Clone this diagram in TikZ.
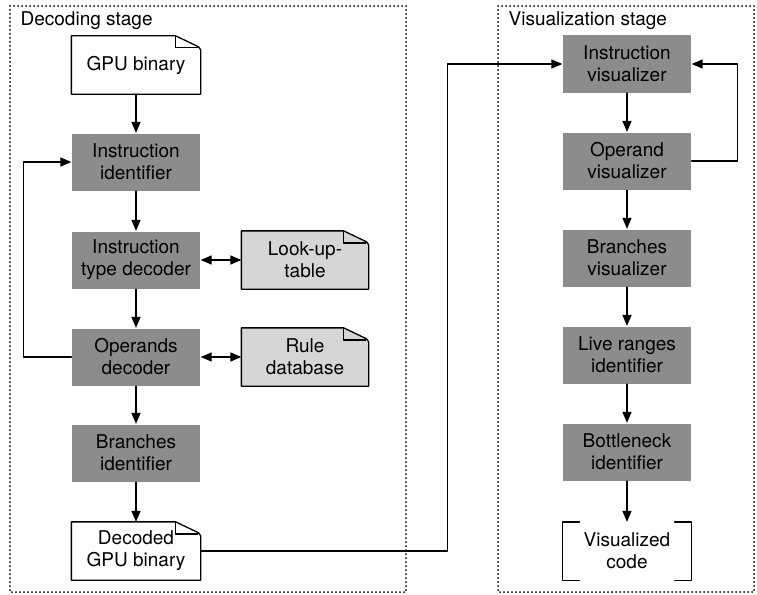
\documentclass[tikz,border=0pt]{standalone}
\usepackage{fontspec}
\setmainfont{TeX Gyre Heros}
\usetikzlibrary{arrows.meta}
\usetikzlibrary{positioning}

\tikzset{
  stagebox/.style={line width=2pt,line cap=round,dash pattern=on 0pt off 4pt},
  procbox/.style={fill=black!45,minimum width=128pt,minimum height=57pt,align=center,inner sep=0pt},
  docbox/.style={minimum width=128pt,minimum height=57pt,align=center,inner sep=0pt},
  stagelabel/.style={anchor=base west,inner sep=0pt},
}
% folded-corner outline round a named node
\newcommand{\docoutline}[2]{%
  \filldraw[fill=#2] (#1.south west) -- (#1.north west) -- ([xshift=-25pt]#1.north east)
    -- ([xshift=-2pt,yshift=-11pt]#1.north east) -- ([yshift=-14pt]#1.north east)
    -- (#1.south east) -- cycle;
  \draw ([xshift=-25pt]#1.north east) -- ++(0,-12pt) -- ([xshift=-3pt,yshift=-12pt]#1.north east);
}

\begin{document}
\begin{tikzpicture}[x=1pt,y=1pt,line width=1.3pt,line cap=round,line join=round,
  >={Triangle[length=11pt,width=9pt]},font=\fontsize{19}{22}\selectfont]
\useasboundingbox (0,0) rectangle (757,-594);
% stages
\draw[stagebox] (10,-6) rectangle (406,-592);
\draw[stagebox] (498,-6) rectangle (754,-592);
\node[stagelabel] (declabel) at (20,-26) {Decoding stage};
\node[stagelabel] (vislabel) at (508,-26) {Visualization stage};

% decoding column
\node[docbox] (gpubin) at (136,-65) {};
\docoutline{gpubin}{white}
\node (gpubintext) at (gpubin) {GPU binary};
\node[procbox] (instid) at (136,-162) {Instruction\\identifier};
\node[procbox] (typedec) at (136,-260) {Instruction\\type decoder};
\node[procbox] (opdec) at (136,-357) {Operands\\decoder};
\node[procbox] (brid) at (136,-453) {Branches\\identifier};
\node[docbox] (decbin) at (136,-551) {};
\docoutline{decbin}{white}
\node[align=center] (decbintext) at (decbin) {Decoded\\GPU binary};

\node[docbox,minimum width=126pt] (lut) at (305,-260) {};
\docoutline{lut}{black!16}
\node[align=center] (luttext) at (lut) {Look-up-\\table};
\node[docbox,minimum width=126pt] (ruledb) at (305,-357) {};
\docoutline{ruledb}{black!16}
\node[align=center] (ruledbtext) at (ruledb) {Rule\\database};

% visualization column
\node[procbox] (instvis) at (627,-64) {Instruction\\visualizer};
\node[procbox] (opvis) at (627,-161) {Operand\\visualizer};
\node[procbox] (brvis) at (627,-258) {Branches\\visualizer};
\node[procbox] (liveid) at (627,-355) {Live ranges\\identifier};
\node[procbox] (bottleid) at (627,-452) {Bottleneck\\identifier};
\node[docbox] (viscode) at (627,-551) {Visualized\\code};
\draw ([xshift=17pt]viscode.north west) -- (viscode.north west) -- (viscode.south west) -- ++(17pt,0);
\draw ([xshift=-17pt]viscode.north east) -- (viscode.north east) -- (viscode.south east) -- ++(-17pt,0);

% connectors
\draw[->] (gpubin) -- (instid);
\draw[->] (instid) -- (typedec);
\draw[->] (typedec) -- (opdec);
\draw[->] (opdec) -- (brid);
\draw[->] (brid) -- (decbin);
\draw[<->] (typedec) -- (lut);
\draw[<->] (opdec) -- (ruledb);
\draw[->] (opdec.west) -- ++(-48,0) |- (instid.west);
\draw[->] (decbin.east) -- ++(247,0) |- (instvis.west);
\draw[->] (instvis) -- (opvis);
\draw[->] (opvis.east) -- ++(46,0) |- (instvis.east);
\draw[->] (opvis) -- (brvis);
\draw[->] (brvis) -- (liveid);
\draw[->] (liveid) -- (bottleid);
\draw[->] (bottleid) -- (viscode);
\end{tikzpicture}
\end{document}
